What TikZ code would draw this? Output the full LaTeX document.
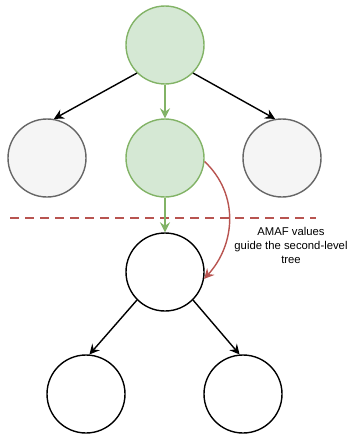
\documentclass[tikz,border=0pt]{standalone}
\usepackage{fontspec}
\setmainfont{Liberation Sans}
\usetikzlibrary{arrows.meta}
\definecolor{gfill}{HTML}{D5E8D4}
\definecolor{gline}{HTML}{82B366}
\definecolor{sfill}{HTML}{F5F5F5}
\definecolor{sline}{HTML}{666666}
\definecolor{rline}{HTML}{B85450}
\tikzset{
  every node/.style={inner sep=0pt},
  circ/.style={circle, minimum size=78pt, line width=1.4pt},
  gcirc/.style={circ, draw=gline, fill=gfill},
  scirc/.style={circ, draw=sline, fill=sfill},
  wcirc/.style={circ, draw=black, fill=white},
  tip/.style={-{Stealth[length=10pt,width=10pt,inset=3.5pt]}},
  blk/.style={tip, line width=1.4pt, draw=black},
  grn/.style={tip, line width=1.6pt, draw=gline, color=gline},
  red/.style={tip, line width=1.4pt, draw=rline, color=rline},
}
\begin{document}
\begin{tikzpicture}[x=1pt,y=-1pt]
\useasboundingbox (0,0) rectangle (349,436);
\node[gcirc] (top) at (165,45) {};
\node[scirc] (l) at (47,158) {};
\node[gcirc] (m) at (165,158) {};
\node[scirc] (r) at (282,158) {};
\node[wcirc] (low) at (165,272) {};
\node[wcirc] (bl) at (86,394) {};
\node[wcirc] (br) at (243,394) {};
\coordinate (dl) at (10,218);
\coordinate (dr) at (316,218);
\draw[rline, line width=2.4pt, dash pattern=on 9pt off 6pt] (dl) -- (dr);
\draw[blk] (top.225) -- (l.80);
\draw[blk] (top.-45) -- (r.100);
\draw[grn] (top.south) -- (m.north);
\draw[grn] (m.south) -- (low.north);
\draw[blk] (low.225) -- (bl.85);
\draw[blk] (low.-45) -- (br.95);
\draw[red] (m.-5) .. controls (240,195) and (235,245) .. (low.-10);
\node[align=center, font=\fontsize{11.3pt}{14pt}\selectfont] (lab) at (291,245) {AMAF values\\guide the second-level\\tree};
\end{tikzpicture}
\end{document}
